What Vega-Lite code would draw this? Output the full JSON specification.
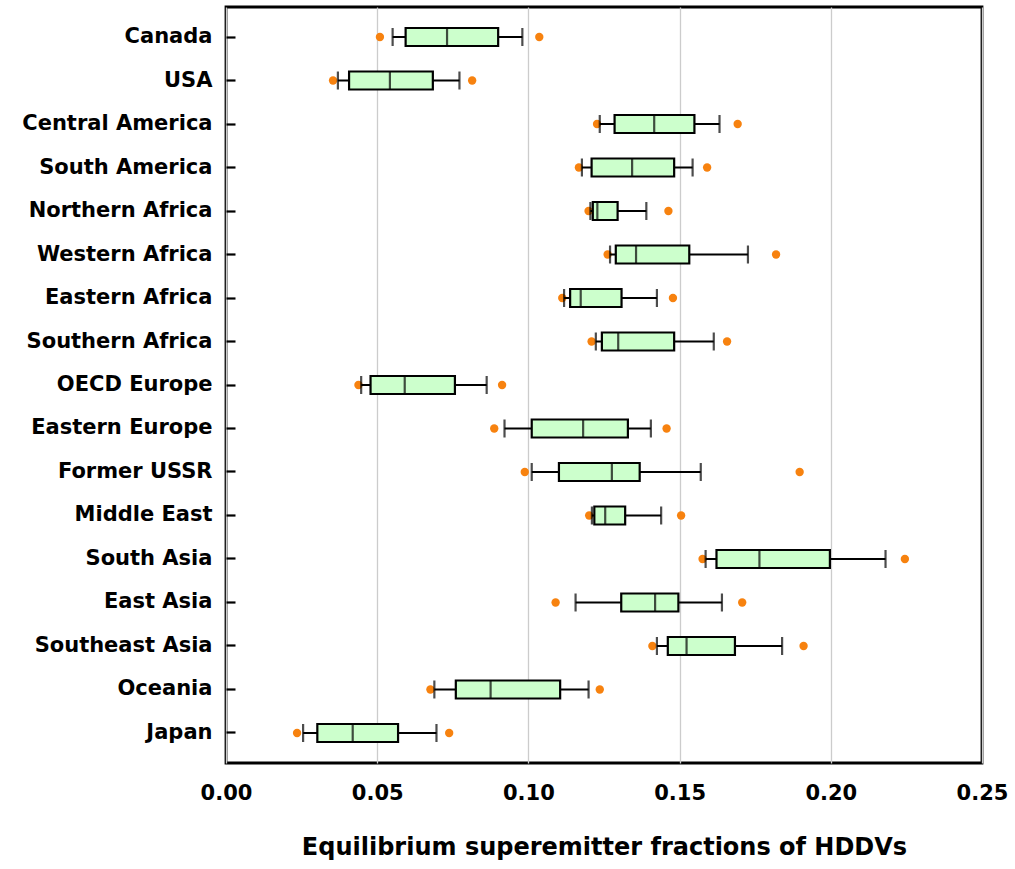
{
  "$schema": "https://vega.github.io/schema/vega-lite/v6.json",
  "autosize": "none",
  "padding": {"left": 226, "top": 7, "right": 33, "bottom": 106},
  "width": 756,
  "height": 756,
  "background": "white",
  "config": {
    "view": {"stroke": "black", "strokeWidth": 2.8},
    "font": "DejaVu Sans"
  },
  "data": {
    "values": [
      {"region": "Canada", "lo": 0.0509, "wmin": 0.0551, "q1": 0.0594, "med": 0.0731, "q3": 0.0900, "wmax": 0.0980, "hi": 0.1036},
      {"region": "USA", "lo": 0.0354, "wmin": 0.0370, "q1": 0.0407, "med": 0.0542, "q3": 0.0684, "wmax": 0.0772, "hi": 0.0814},
      {"region": "Central America", "lo": 0.1227, "wmin": 0.1236, "q1": 0.1285, "med": 0.1416, "q3": 0.1549, "wmax": 0.1632, "hi": 0.1692},
      {"region": "South America", "lo": 0.1167, "wmin": 0.1177, "q1": 0.1209, "med": 0.1343, "q3": 0.1482, "wmax": 0.1543, "hi": 0.1591},
      {"region": "Northern Africa", "lo": 0.1199, "wmin": 0.1205, "q1": 0.1213, "med": 0.1228, "q3": 0.1295, "wmax": 0.1390, "hi": 0.1463},
      {"region": "Western Africa", "lo": 0.1262, "wmin": 0.1270, "q1": 0.1289, "med": 0.1356, "q3": 0.1532, "wmax": 0.1726, "hi": 0.1819},
      {"region": "Eastern Africa", "lo": 0.1112, "wmin": 0.1118, "q1": 0.1138, "med": 0.1173, "q3": 0.1308, "wmax": 0.1425, "hi": 0.1478},
      {"region": "Southern Africa", "lo": 0.1209, "wmin": 0.1223, "q1": 0.1243, "med": 0.1297, "q3": 0.1482, "wmax": 0.1613, "hi": 0.1657},
      {"region": "OECD Europe", "lo": 0.0438, "wmin": 0.0447, "q1": 0.0478, "med": 0.0591, "q3": 0.0757, "wmax": 0.0862, "hi": 0.0913},
      {"region": "Eastern Europe", "lo": 0.0887, "wmin": 0.0921, "q1": 0.1011, "med": 0.1181, "q3": 0.1329, "wmax": 0.1405, "hi": 0.1457},
      {"region": "Former USSR", "lo": 0.0988, "wmin": 0.1011, "q1": 0.1101, "med": 0.1276, "q3": 0.1368, "wmax": 0.1570, "hi": 0.1897},
      {"region": "Middle East", "lo": 0.1201, "wmin": 0.1210, "q1": 0.1218, "med": 0.1254, "q3": 0.1320, "wmax": 0.1439, "hi": 0.1505},
      {"region": "South Asia", "lo": 0.1576, "wmin": 0.1586, "q1": 0.1622, "med": 0.1764, "q3": 0.1997, "wmax": 0.2181, "hi": 0.2245},
      {"region": "East Asia", "lo": 0.1090, "wmin": 0.1156, "q1": 0.1307, "med": 0.1419, "q3": 0.1496, "wmax": 0.1640, "hi": 0.1707},
      {"region": "Southeast Asia", "lo": 0.1410, "wmin": 0.1425, "q1": 0.1461, "med": 0.1523, "q3": 0.1683, "wmax": 0.1839, "hi": 0.1910},
      {"region": "Oceania", "lo": 0.0676, "wmin": 0.0689, "q1": 0.0760, "med": 0.0875, "q3": 0.1105, "wmax": 0.1199, "hi": 0.1236},
      {"region": "Japan", "lo": 0.0235, "wmin": 0.0255, "q1": 0.0302, "med": 0.0419, "q3": 0.0569, "wmax": 0.0696, "hi": 0.0738}
    ]
  },
  "encoding": {
    "y": {
      "field": "region", "type": "nominal", "sort": null,
      "scale": {"type": "band", "paddingInner": 0.5, "paddingOuter": 0.44},
      "axis": {
        "title": null, "domain": false, "ticks": true, "tickSize": -9, "tickWidth": 2.2, "tickColor": "black",
        "labelFont": "DejaVu Sans", "labelFontSize": 21, "labelFontWeight": "bold", "labelColor": "black",
        "labelPadding": 23, "labelLimit": 300, "grid": false
      }
    }
  },
  "layer": [
    {
      "mark": {"type": "point", "filled": true, "color": "#f7820f", "size": 70, "opacity": 1},
      "encoding": {
        "x": {
          "field": "lo", "type": "quantitative",
          "scale": {"domain": [0, 0.25], "nice": false, "zero": false},
          "axis": {
            "values": [0, 0.05, 0.1, 0.15, 0.2, 0.25], "format": ".2f", "domain": false, "ticks": false,
            "grid": true, "gridColor": "#cccccc", "gridWidth": 1.3,
            "labelFont": "DejaVu Sans", "labelFontSize": 21, "labelFontWeight": "bold", "labelColor": "black",
            "labelPadding": 19, "labelFlush": false,
            "title": "Equilibrium superemitter fractions of HDDVs",
            "titleFont": "DejaVu Sans", "titleFontSize": 24, "titleFontWeight": "bold", "titleColor": "black",
            "titleBaseline": "alphabetic", "titleY": 91
          }
        }
      }
    },
    {
      "mark": {"type": "point", "filled": true, "color": "#f7820f", "size": 70, "opacity": 1},
      "encoding": {"x": {"field": "hi", "type": "quantitative"}}
    },
    {
      "mark": {"type": "rule", "color": "black", "strokeWidth": 2},
      "encoding": {"x": {"field": "wmin", "type": "quantitative"}, "x2": {"field": "wmax"}}
    },
    {
      "mark": {"type": "bar", "fill": "#ccffcc", "stroke": "black", "strokeWidth": 2.2, "size": 18},
      "encoding": {"x": {"field": "q1", "type": "quantitative"}, "x2": {"field": "q3"}}
    },
    {
      "mark": {"type": "tick", "color": "black", "size": 18, "thickness": 2.2},
      "encoding": {"x": {"field": "med", "type": "quantitative"}}
    },
    {
      "mark": {"type": "tick", "color": "black", "size": 18, "thickness": 2.2},
      "encoding": {"x": {"field": "wmin", "type": "quantitative"}}
    },
    {
      "mark": {"type": "tick", "color": "black", "size": 18, "thickness": 2.2},
      "encoding": {"x": {"field": "wmax", "type": "quantitative"}}
    }
  ]
}
